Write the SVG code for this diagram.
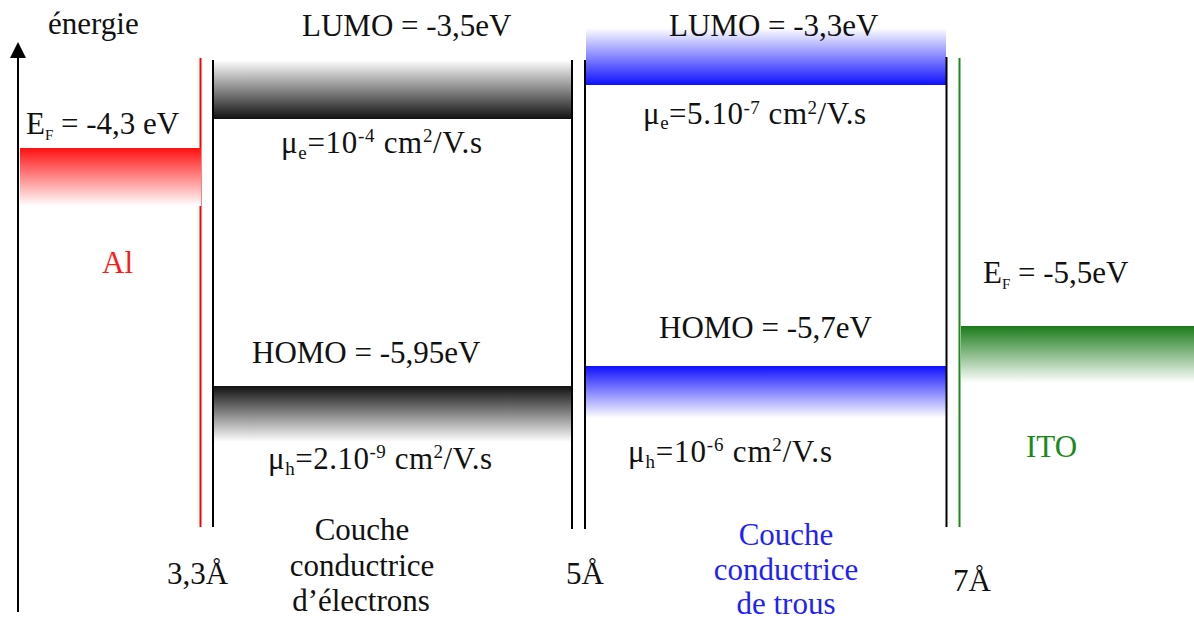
<svg xmlns="http://www.w3.org/2000/svg" width="1194" height="621" viewBox="0 0 1194 621">
<style>
text{font-family:"Liberation Serif",serif;font-size:31px;fill:#111}
.s{font-size:19px}
.red{fill:#ff1a1a}
.blue{fill:#1e1eff}
.green{fill:#1a8a1a}
.mid{text-anchor:middle}
.vl{stroke:#000;stroke-width:2;fill:none}
</style>
<defs>
<linearGradient id="gRed" x1="0" y1="0" x2="0" y2="1"><stop offset="0" stop-color="#ff1010"/><stop offset="1" stop-color="#ffffff"/></linearGradient>
<linearGradient id="gBlkUp" x1="0" y1="0" x2="0" y2="1"><stop offset="0" stop-color="#ffffff"/><stop offset="1" stop-color="#111111"/></linearGradient>
<linearGradient id="gBlkDn" x1="0" y1="0" x2="0" y2="1"><stop offset="0" stop-color="#111111"/><stop offset="1" stop-color="#ffffff"/></linearGradient>
<linearGradient id="gBluUp" x1="0" y1="0" x2="0" y2="1"><stop offset="0" stop-color="#ffffff"/><stop offset="1" stop-color="#1010ff"/></linearGradient>
<linearGradient id="gBluDn" x1="0" y1="0" x2="0" y2="1"><stop offset="0" stop-color="#1010ff"/><stop offset="1" stop-color="#ffffff"/></linearGradient>
<linearGradient id="gGrn" x1="0" y1="0" x2="0" y2="1"><stop offset="0" stop-color="#1a7a1a"/><stop offset="1" stop-color="#ffffff"/></linearGradient>
</defs>

<g id="axis">
<line x1="18" y1="612" x2="18" y2="56" stroke="#000" stroke-width="2"/>
<polygon points="18,42 10,58 26,58" fill="#000"/>
<text x="48" y="34">énergie</text>
</g>

<g id="al">
<line x1="200.5" y1="58" x2="200.5" y2="527" stroke="#ff0000" stroke-width="2"/>
<rect x="20" y="148" width="181" height="58" fill="url(#gRed)"/>
<text x="26" y="134">E<tspan font-size="15" dy="6">F</tspan><tspan dy="-6"> = -4,3 eV</tspan></text>
<text class="red" x="102" y="273">Al</text>
<text x="167" y="584">3,3Å</text>
</g>

<g id="electron-layer">
<rect x="214" y="60" width="357" height="59" fill="url(#gBlkUp)"/>
<rect x="214" y="386" width="357" height="56" fill="url(#gBlkDn)"/>
<line class="vl" x1="213" y1="60" x2="213" y2="527"/>
<line class="vl" x1="572" y1="60" x2="572" y2="529"/>
<text x="302" y="36">LUMO = -3,5eV</text>
<text x="281" y="153" textLength="201" lengthAdjust="spacing">μ<tspan class="s" dy="6">e</tspan><tspan dy="-6">=10</tspan><tspan class="s" dy="-11">-4</tspan><tspan dy="11"> cm</tspan><tspan class="s" dy="-11">2</tspan><tspan dy="11">/V.s</tspan></text>
<text x="252" y="363">HOMO = -5,95eV</text>
<text x="268" y="469" textLength="224" lengthAdjust="spacing">μ<tspan class="s" dy="6">h</tspan><tspan dy="-6">=2.10</tspan><tspan class="s" dy="-11">-9</tspan><tspan dy="11"> cm</tspan><tspan class="s" dy="-11">2</tspan><tspan dy="11">/V.s</tspan></text>
<text class="mid" x="362" y="540">Couche</text>
<text class="mid" x="362" y="576">conductrice</text>
<text class="mid" x="361" y="611">d’électrons</text>
<text x="566" y="584">5Å</text>
</g>

<g id="hole-layer">
<line class="vl" x1="585" y1="60" x2="585" y2="529"/>
<rect x="586" y="28" width="360" height="57" fill="url(#gBluUp)"/>
<rect x="586" y="366" width="360" height="52" fill="url(#gBluDn)"/>
<line class="vl" x1="946.5" y1="57" x2="946.5" y2="527"/>
<text x="669" y="36">LUMO = -3,3eV</text>
<text x="643" y="124" textLength="223" lengthAdjust="spacing">μ<tspan class="s" dy="5">e</tspan><tspan dy="-5">=5.10</tspan><tspan class="s" dy="-10">-7</tspan><tspan dy="10"> cm</tspan><tspan class="s" dy="-10">2</tspan><tspan dy="10">/V.s</tspan></text>
<text x="659" y="338">HOMO = -5,7eV</text>
<text x="628" y="462" textLength="204" lengthAdjust="spacing">μ<tspan class="s" dy="6">h</tspan><tspan dy="-6">=10</tspan><tspan class="s" dy="-11">-6</tspan><tspan dy="11"> cm</tspan><tspan class="s" dy="-11">2</tspan><tspan dy="11">/V.s</tspan></text>
<text class="mid blue" x="786" y="545">Couche</text>
<text class="mid blue" x="786" y="580">conductrice</text>
<text class="mid blue" x="786" y="614">de trous</text>
<text x="953" y="591">7Å</text>
</g>

<g id="ito">
<line x1="959.5" y1="58" x2="959.5" y2="527" stroke="#1a8a1a" stroke-width="2"/>
<rect x="961" y="326" width="233" height="57" fill="url(#gGrn)"/>
<text x="983" y="283">E<tspan font-size="15" dy="6">F</tspan><tspan dy="-6"> = -5,5eV</tspan></text>
<text class="green" x="1026" y="457">ITO</text>
</g>
</svg>
